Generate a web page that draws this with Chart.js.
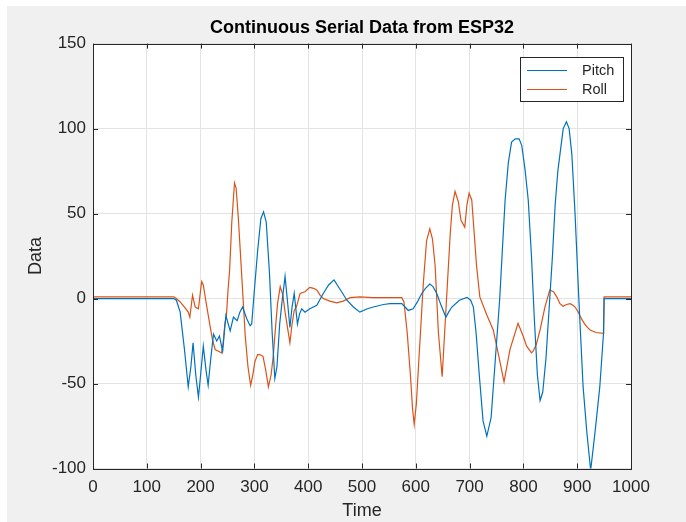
<!DOCTYPE html>
<html>
<head>
<meta charset="utf-8">
<script src="https://cdn.jsdelivr.net/npm/chart.js@4.4.1/dist/chart.umd.min.js"></script>
<style>
  html, body { margin: 0; padding: 0; background: #fff; }
  canvas { display: block; }
</style>
</head>
<body>
<canvas id="chart" width="686" height="522"></canvas>
<script>
// Data
const pitchTime = [0, 150, 155, 162, 170, 177, 182, 186, 191, 196, 200, 205, 210, 214, 219, 224, 230, 235, 241, 247,
  255, 261, 268, 273, 278, 286, 292, 295, 300, 306, 312, 317, 322, 328, 333, 338, 342, 347, 351, 357,
  361, 366, 370, 374, 377, 380, 384, 388, 394, 403, 416, 428, 438, 448, 460, 472, 484, 496, 510, 521,
  540, 552, 574, 580, 586, 595, 603, 611, 618, 626, 632, 639, 647, 656, 661, 667, 681, 695, 702, 707,
  712, 718, 725, 732, 740, 748, 756, 762, 766, 772, 778, 785, 792, 797, 803, 809, 815, 820, 826, 831,
  836, 842, 848, 854, 859, 864, 868, 874, 880, 885, 890, 896, 903, 911, 918, 925, 933, 942, 949, 950, 1000];
const pitchValues = [0, 0, -1, -8, -30, -52, -40, -26, -45, -58, -45, -28, -42, -51, -35, -21, -25, -22, -31, -10,
  -19, -11, -13, -8, -5, -12, -16, -15, 5, 28, 47, 51, 45, 15, -20, -47, -40, -15, -3, 13,
  0, -17, -5, 3, -6, -15, -9, -6, -8, -6, -4, 3, 8, 11, 5, -1, -5, -8, -6, -5,
  -3.5, -3, -3, -5, -7, -6, -2, 3, 6, 8.5, 7, 3, -4, -11, -8, -5, -1, 0.7, -1, -5,
  -20, -45, -72, -81, -70, -35, 0, 35, 58, 80, 92, 94, 94, 90, 76, 58, 25, -10, -45, -60,
  -55, -35, -5, 25, 55, 75, 85, 100, 104, 100, 85, 50, 0, -52, -79, -101, -79, -52, -20, 0, 0];

const rollTime = [0, 150, 155, 162, 170, 177, 180, 185, 190, 196, 200, 202, 205, 210, 217, 222, 227, 233, 239, 242,
  245, 248, 251, 254, 258, 263, 266, 270, 273, 278, 283, 288, 293, 297, 301, 306, 310, 316, 321, 326,
  331, 335, 339, 343, 348, 353, 357, 362, 366, 370, 374, 378, 385, 394, 403, 410, 416, 422, 428, 440,
  453, 465, 478, 496, 520, 550, 574, 578, 584, 590, 594, 597, 601, 605, 614, 620, 626, 631, 636, 642,
  649, 657, 664, 668, 673, 679, 684, 691, 695, 699, 704, 713, 719, 732, 744, 753, 764, 775, 790, 800,
  806, 815, 818, 824, 831, 840, 849, 856, 862, 868, 874, 880, 887, 892, 896, 902, 908, 914, 919, 924,
  935, 949, 950, 1000];
const rollValues = [1, 1, 0, -2, -5, -8, -11, 2, -5, -6, 5, 10, 8, -2, -15, -24, -30, -31, -32, -26,
  -15, -10, 5, 17, 45, 68, 65, 48, 32, 5, -22, -40, -51, -45, -37, -33, -33, -34, -42, -52,
  -45, -34, -18, -3, 7, 2, -8, -18, -26, -15, -7, -5, 3, 4, 6.6, 6, 5, 2, 0, -1.5,
  -2.5, -1.5, 0.5, 1, 0.5, 0.5, 0.5, -2, -20, -45, -65, -74, -62, -40, 9, 34, 41, 35, 19, -20,
  -46, -1, 38, 55, 63, 57, 46, 42, 55, 62, 58, 19, 1, -9.7, -18.5, -32, -49, -30, -14.6, -22.5,
  -28, -32, -31, -27, -18.5, -5, 5, 4, 1, -3, -4.5, -3.5, -3, -4, -5, -8, -12, -15, -17, -18.5,
  -20, -20.5, 1, 1];

const xTicks = [0, 100, 200, 300, 400, 500, 600, 700, 800, 900, 1000];
const yTicks = [-100, -50, 0, 50, 100, 150];

const textColor = '#262626';
const fontFamily = '"Liberation Sans", Arial, Helvetica, sans-serif';

// gray figure background + white axes
const backdrop = {
  id: 'backdrop',
  beforeDraw(chart) {
    const { ctx, chartArea: a } = chart;
    ctx.save();
    ctx.fillStyle = '#ffffff';
    ctx.fillRect(0, 0, chart.width, chart.height);
    ctx.fillStyle = '#f0f0f0';
    ctx.fillRect(7, 6, chart.width - 7, chart.height - 6);
    ctx.fillStyle = '#ffffff';
    ctx.fillRect(a.left, a.top, a.right - a.left, a.bottom - a.top);
    ctx.restore();
  }
};

// box, inward ticks and a MATLAB-like legend
const axesBox = {
  id: 'axesBox',
  afterDraw(chart) {
    const { ctx, chartArea: a, scales } = chart;
    ctx.save();
    ctx.strokeStyle = textColor;
    ctx.lineWidth = 1;
    ctx.beginPath();
    scales.x.ticks.forEach(t => {
      const px = Math.round(scales.x.getPixelForValue(t.value)) + 0.5;
      ctx.moveTo(px, a.bottom); ctx.lineTo(px, a.bottom - 5);
      ctx.moveTo(px, a.top); ctx.lineTo(px, a.top + 5);
    });
    scales.y.ticks.forEach(t => {
      const py = Math.round(scales.y.getPixelForValue(t.value)) + 0.5;
      ctx.moveTo(a.left, py); ctx.lineTo(a.left + 5, py);
      ctx.moveTo(a.right, py); ctx.lineTo(a.right - 5, py);
    });
    ctx.stroke();
    ctx.strokeRect(Math.round(a.left) + 0.5, Math.round(a.top) + 0.5,
      Math.round(a.right - a.left), Math.round(a.bottom - a.top));

    // legend
    const lx = 520.5, ly = 57.5, lw = 103, lh = 44;
    ctx.fillStyle = '#ffffff';
    ctx.fillRect(lx, ly, lw, lh);
    ctx.strokeStyle = textColor;
    ctx.strokeRect(lx, ly, lw, lh);
    ctx.font = '14.5px ' + fontFamily;
    ctx.textBaseline = 'middle';
    chart.data.datasets.forEach((ds, i) => {
      const y = 70.5 + i * 19;
      ctx.strokeStyle = ds.borderColor;
      ctx.lineWidth = 1.2;
      ctx.beginPath();
      ctx.moveTo(527, y); ctx.lineTo(567, y);
      ctx.stroke();
      ctx.fillStyle = textColor;
      ctx.fillText(ds.label, 582, y);
    });
    ctx.restore();
  }
};

new Chart(document.getElementById('chart'), {
  type: 'line',
  data: {
    datasets: [
      {
        label: 'Pitch',
        data: pitchTime.map((t, i) => ({ x: t, y: pitchValues[i] })),
        borderColor: '#0072BD',
        borderWidth: 1.2,
        pointRadius: 0,
        tension: 0
      },
      {
        label: 'Roll',
        data: rollTime.map((t, i) => ({ x: t, y: rollValues[i] })),
        borderColor: '#D95319',
        borderWidth: 1.2,
        pointRadius: 0,
        tension: 0
      }
    ]
  },
  options: {
    responsive: false,
    animation: false,
    layout: { padding: { left: 0, right: 55, top: 0, bottom: 0 } },
    plugins: {
      legend: { display: false },
      tooltip: { enabled: false },
      title: {
        display: true,
        fullSize: false,
        text: 'Continuous Serial Data from ESP32',
        color: '#000000',
        font: { family: fontFamily, size: 18, weight: 'bold' },
        padding: { top: 17, bottom: 5 }
      }
    },
    scales: {
      x: {
        type: 'linear',
        min: 0,
        max: 1000,
        afterFit: s => { s.height = 53.5; },
        afterBuildTicks: s => { s.ticks = xTicks.map(v => ({ value: v })); },
        grid: { color: '#e3e3e3', drawTicks: false },
        border: { display: false },
        ticks: {
          color: textColor,
          padding: 9,
          maxRotation: 0,
          callback: v => String(v),
          font: { family: fontFamily, size: 17 }
        },
        title: {
          display: true,
          text: 'Time',
          color: textColor,
          font: { family: fontFamily, size: 18 },
          padding: { top: 0, bottom: 0 }
        }
      },
      y: {
        min: -100,
        max: 150,
        afterFit: s => { s.width = 93; },
        afterBuildTicks: s => { s.ticks = yTicks.map(v => ({ value: v })); },
        grid: { color: '#e3e3e3', drawTicks: false },
        border: { display: false },
        ticks: {
          color: textColor,
          padding: 7,
          callback: v => String(v),
          font: { family: fontFamily, size: 17 }
        },
        title: {
          display: true,
          text: 'Data',
          color: textColor,
          font: { family: fontFamily, size: 18 },
          padding: { top: 25, bottom: 0 }
        }
      }
    }
  },
  plugins: [backdrop, axesBox]
});
</script>
</body>
</html>
